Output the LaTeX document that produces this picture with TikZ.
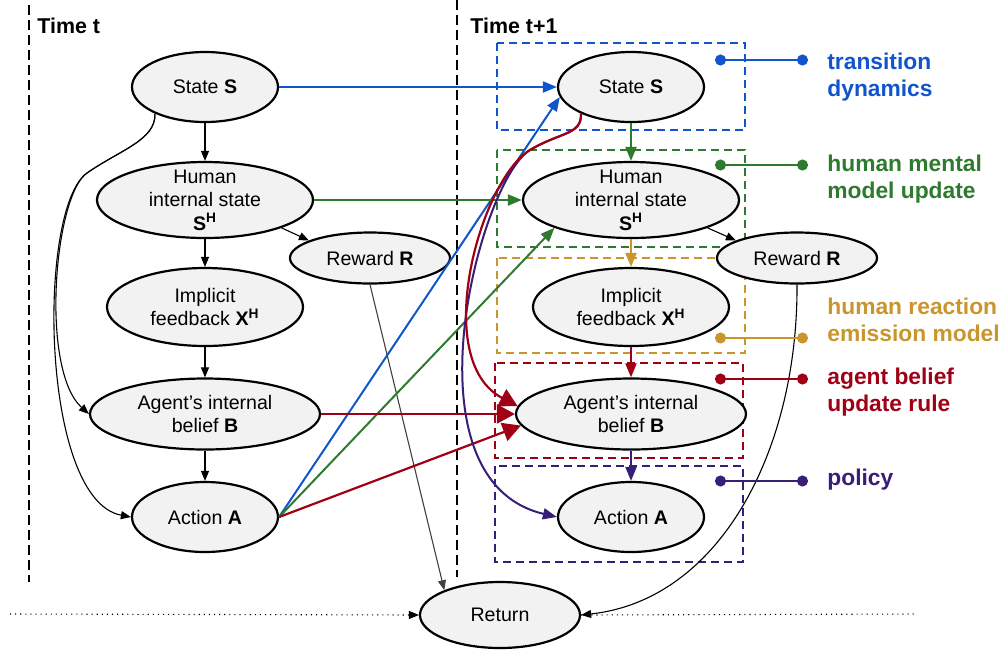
\documentclass[tikz,border=0pt]{standalone}
\usepackage{fontspec}
\setmainfont{Liberation Sans}
\usetikzlibrary{arrows.meta,shapes.geometric,backgrounds}
\definecolor{tblue}{HTML}{1155CC}
\definecolor{tgreen}{HTML}{2E7A2E}
\definecolor{tgold}{HTML}{C9962D}
\definecolor{tred}{HTML}{A00016}
\definecolor{tpurple}{HTML}{371E78}
\definecolor{nodefill}{HTML}{F2F2F2}

\begin{document}
\begin{tikzpicture}[x=0.5pt,y=-0.5pt,node distance=53.5pt,>={Triangle[length=5pt,width=4pt]}]
  \tikzstyle{var}=[ellipse,draw,line width=1.1pt,fill=nodefill,inner sep=0pt,
                   align=center,font=\fontsize{9.8}{11.8}\selectfont]
  \tikzstyle{small var}=[var,minimum width=73pt,minimum height=35pt]
  \tikzstyle{hidden var}=[var,minimum width=108pt,minimum height=38pt,inner ysep=-5pt]
  \tikzstyle{reward}=[var,minimum width=80pt,minimum height=25.5pt]
  \tikzstyle{feedback}=[var,minimum width=98pt,minimum height=39pt]
  \tikzstyle{belief}=[var,minimum width=115pt,minimum height=35.5pt]
  \tikzstyle{dep}=[->,line width=0.55pt]
  \tikzstyle{link}=[line width=1pt,-{Triangle[length=7pt,width=5.5pt]}]
  \tikzstyle{big link}=[line width=1.1pt,-{Triangle[length=9pt,width=9.5pt]}]
  \tikzstyle{group}=[line width=1.1pt,dash pattern=on 4pt off 2.5pt]
  \tikzstyle{slice}=[line width=1.1pt,dash pattern=on 5pt off 2.5pt]
  \tikzstyle{key}=[line width=1pt,{Circle[length=5.5pt]}-{Circle[length=5.5pt]}]
  \tikzstyle{key text}=[anchor=west,align=left,inner sep=0pt,
                        font=\bfseries\fontsize{11.4}{13.5}\selectfont]
  \tikzstyle{title}=[anchor=base west,inner sep=0pt,font=\bfseries\fontsize{10.7}{12}\selectfont]
  \useasboundingbox (0,0) rectangle (1008,650);

  \begin{scope}
    \node[small var] (s0) at (205,87) {State \textbf{S}};
    \node[hidden var] (h0) [below of=s0,node distance=56.5pt] {Human\\internal state\\\textbf{S\textsuperscript{H}}};
    \node[feedback] (x0) [below of=h0] {Implicit\\feedback \textbf{X\textsuperscript{H}}};
    \node[belief] (b0) [below of=x0] {Agent’s internal\\belief \textbf{B}};
    \node[small var] (a0) [below of=b0,node distance=51.5pt] {Action \textbf{A}};
    \node[reward] (r0) at (370,258) {Reward \textbf{R}};
  \end{scope}
  \begin{scope}[xshift=213pt]
    \node[small var] (s1) at (205,87) {State \textbf{S}};
    \node[hidden var] (h1) [below of=s1,node distance=56.5pt] {Human\\internal state\\\textbf{S\textsuperscript{H}}};
    \node[feedback] (x1) [below of=h1] {Implicit\\feedback \textbf{X\textsuperscript{H}}};
    \node[belief] (b1) [below of=x1] {Agent’s internal\\belief \textbf{B}};
    \node[small var] (a1) [below of=b1,node distance=51.5pt] {Action \textbf{A}};
    \node[reward] (r1) at (371,258) {Reward \textbf{R}};
  \end{scope}
  \node[var,minimum width=80pt,minimum height=33pt] (ret) at (500,615) {Return};

  \node[title] (tt0) at (37,33) {Time t};
  \node[title] (tt1) at (470,33) {Time t+1};
  \coordinate (past) at (10,614);
  \coordinate (future) at (917,614);

  \begin{scope}[on background layer]
    \draw[group,tblue] (497,43) rectangle (745,130);
    \draw[group,tgreen] (497,150) rectangle (745,247);
    \draw[group,tgold] (497,258) rectangle (745,353);
    \draw[group,tred] (495,363) rectangle (743,458);
    \draw[group,tpurple] (495,466) rectangle (743,562);
    \draw[slice] (29,5) -- (29,582);
    \draw[slice] (457,0) -- (457,577);
  \end{scope}

  \draw[dep] (s0) -- (h0);
  \draw[dep] (h0) -- (x0);
  \draw[dep] (x0) -- (b0);
  \draw[dep] (b0) -- (a0);
  \draw[dep] (h0.-20) -- (r0.164);
  \draw[dep] (s0.208) .. controls (156,140) and (120,150) .. (87,173)
    .. controls (54,196) and (40,370) .. (b0.west);
  \draw[dep] (s0.208) .. controls (156,140) and (120,150) .. (87,173)
    .. controls (37,208) and (40,500) .. (a0.west);
  \draw[dep,black!75] (r0.south) -- (ret.156);
  \draw[dep] (h1.-20) -- (r1.164);
  \draw[dep] (r1.south) .. controls (798,450) and (720,600) .. (ret.east);
  \draw[dep,dotted] (past) -- (ret.west);
  \draw[line width=0.55pt,dotted] (ret.east) -- (future);

  \draw[link,tblue] (s0) -- (s1);
  \draw[link,tblue] (a0.east) -- (s1.188);
  \draw[link,tgreen] (h0) -- (h1);
  \draw[link,tgreen] (a0.east) -- (h1.200);
  \draw[big link,tred] (b0) -- (b1);
  \draw[big link,tred] (a0.east) -- (b1.186);
  \draw[link,tpurple] (s1.208) .. controls (582,135) and (560,132) .. (530,150)
    .. controls (480,180) and (400,480) .. (a1.west);
  \draw[big link,tred] (s1.208) .. controls (582,135) and (560,132) .. (530,150)
    .. controls (480,180) and (430,360) .. (b1.176);
  \draw[link,tgreen] (s1) -- (h1);
  \draw[link,tgold] (h1) -- (x1);
  \draw[link,tred] (x1) -- (b1);
  \draw[link,tpurple] (b1) -- (a1);

  \coordinate (k1a) at (715,60);  \coordinate (k1b) at (808,60);
  \coordinate (k2a) at (715,165); \coordinate (k2b) at (808,165);
  \coordinate (k3a) at (715,338); \coordinate (k3b) at (808,338);
  \coordinate (k4a) at (715,379); \coordinate (k4b) at (808,379);
  \coordinate (k5a) at (715,481); \coordinate (k5b) at (808,481);
  \draw[key,tblue] (k1a) -- (k1b);
  \draw[key,tgreen] (k2a) -- (k2b);
  \draw[key,tgold] (k3a) -- (k3b);
  \draw[key,tred] (k4a) -- (k4b);
  \draw[key,tpurple] (k5a) -- (k5b);
  \node[key text,tblue] (k1) at (827,77) {transition\\dynamics};
  \node[key text,tgreen] (k2) at (827,179) {human mental\\model update};
  \node[key text,tgold] (k3) at (827,320) {human reaction\\emission model};
  \node[key text,tred] (k4) at (827,392) {agent belief\\update rule};
  \node[key text,tpurple] (k5) at (827,480) {policy};
\end{tikzpicture}
\end{document}
